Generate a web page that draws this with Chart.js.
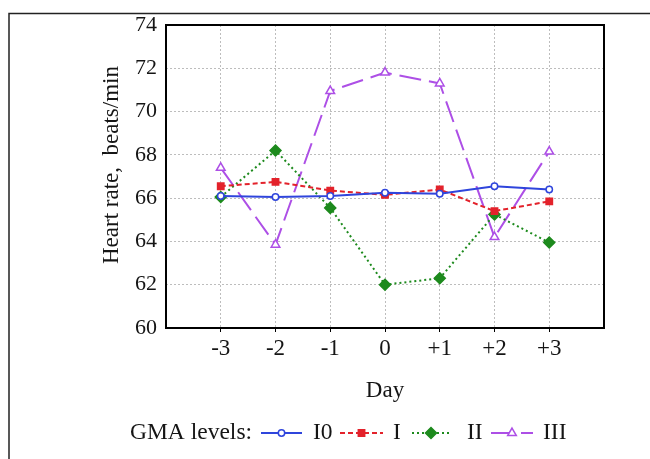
<!DOCTYPE html>
<html>
<head>
<meta charset="utf-8">
<script src="https://cdn.jsdelivr.net/npm/chart.js@4/dist/chart.umd.min.js"></script>
<style>
  html, body { margin: 0; padding: 0; background: #fff; }
  #wrap { width: 650px; height: 459px; position: relative; }
</style>
</head>
<body>
<div id="wrap"><canvas id="c" width="650" height="459"></canvas></div>
<script>
// Days relative to the event, and their printed labels
const days = [-3, -2, -1, 0, 1, 2, 3];
const dayLabels = ['-3', '-2', '-1', '0', '+1', '+2', '+3'];

// Mean heart rate (beats/min) per GMA level
const hrI0  = [66.1, 66.05, 66.1, 66.25, 66.2, 66.55, 66.4];
const hrI   = [66.55, 66.75, 66.35, 66.15, 66.4, 65.4, 65.85];
const hrII  = [66.05, 68.2, 65.55, 62.0, 62.3, 65.25, 63.95];
const hrIII = [67.4, 63.85, 70.95, 71.8, 71.3, 64.2, 68.15];

const yTicks = [60, 62, 64, 66, 68, 70, 72, 74];

const SERIF = '"Liberation Serif", "Times New Roman", serif';
const INK = '#151515';

const toPoints = arr => days.map((d, i) => ({ x: d, y: arr[i] }));

const series = [
  { label: 'I0',  data: hrI0,  color: '#2f45dc', dash: [],      style: 'circle',   fill: '#ffffff', radius: 3.2, width: 2 },
  { label: 'I',   data: hrI,   color: '#e3222b', dash: [5, 3],  style: 'rect',     fill: '#e3222b', radius: 4.5, width: 2 },
  { label: 'II',  data: hrII,  color: '#1d8a1d', dash: [2, 3],  style: 'rectRot',  fill: '#1d8a1d', radius: 5.5, width: 2 },
  { label: 'III', data: hrIII, color: '#ad4fe6', dash: [22, 8], style: 'triangle', fill: '#ffffff', radius: 5,   width: 2 }
];

const datasets = series.map(s => ({
  label: s.label,
  data: toPoints(s.data),
  borderColor: s.color,
  backgroundColor: s.fill,
  borderWidth: s.width,
  borderDash: s.dash,
  pointStyle: s.style,
  pointRadius: s.radius,
  pointBorderColor: s.color,
  pointBackgroundColor: s.fill,
  pointBorderWidth: 1.5,
  tension: 0,
  fill: false
}));

// Outer frame, plot box and the legend row
const decorations = {
  id: 'decorations',
  beforeDraw(chart) {
    const ctx = chart.ctx;
    ctx.save();
    ctx.strokeStyle = '#222';
    ctx.lineWidth = 1.5;
    ctx.beginPath();
    ctx.moveTo(9, 459);
    ctx.lineTo(9, 13.5);
    ctx.lineTo(650, 13.5);
    ctx.stroke();
    ctx.restore();
  },
  afterDraw(chart) {
    const ctx = chart.ctx;
    const a = chart.chartArea;
    ctx.save();
    ctx.strokeStyle = '#000';
    ctx.lineWidth = 2;
    ctx.strokeRect(a.left, a.top, a.right - a.left, a.bottom - a.top);

    // legend row
    const y = 433;
    ctx.font = '23.5px ' + SERIF;
    ctx.fillStyle = INK;
    ctx.textBaseline = 'middle';
    ctx.textAlign = 'left';
    ctx.fillText('GMA levels:', 130, y);
    const slots = [
      { x0: 261, x1: 302, text: 313 },
      { x0: 340, x1: 383, text: 393 },
      { x0: 412, x1: 450, text: 467 },
      { x0: 491, x1: 533, text: 543 }
    ];
    series.forEach((s, i) => {
      const p = slots[i];
      ctx.save();
      ctx.strokeStyle = s.color;
      ctx.lineWidth = s.width;
      ctx.setLineDash(s.dash);
      ctx.beginPath();
      ctx.moveTo(p.x0, y);
      ctx.lineTo(p.x1, y);
      ctx.stroke();
      ctx.setLineDash([]);
      ctx.fillStyle = s.fill;
      ctx.strokeStyle = s.color;
      ctx.lineWidth = 1.5;
      Chart.helpers.drawPoint(ctx, {
        pointStyle: s.style,
        radius: s.radius,
        rotation: 0,
        borderWidth: 1.5
      }, (p.x0 + p.x1) / 2, y);
      ctx.restore();
      ctx.fillStyle = INK;
      ctx.fillText(s.label, p.text, y);
    });
    ctx.restore();
  }
};

new Chart(document.getElementById('c'), {
  type: 'line',
  data: { datasets },
  plugins: [decorations],
  options: {
    responsive: false,
    animation: false,
    events: [],
    layout: { padding: { left: 98, right: 46, top: 25, bottom: 54 } },
    plugins: {
      legend: { display: false },
      tooltip: { enabled: false }
    },
    scales: {
      x: {
        type: 'linear',
        min: -4,
        max: 4,
        afterBuildTicks: scale => { scale.ticks = days.map(v => ({ value: v })); },
        afterFit: scale => { scale.height = 77; },
        ticks: {
          callback: v => dayLabels[days.indexOf(v)],
          font: { family: SERIF, size: 23 },
          color: INK,
          padding: 3,
          maxRotation: 0
        },
        grid: {
          color: '#bdbdbd',
          lineWidth: 1,
          drawTicks: true,
          tickLength: 4,
          tickColor: '#000'
        },
        border: { display: false, dash: [2, 2] },
        title: {
          display: true,
          text: 'Day',
          font: { family: SERIF, size: 23 },
          color: INK,
          padding: 0
        }
      },
      y: {
        min: 60,
        max: 74,
        afterBuildTicks: scale => { scale.ticks = yTicks.map(v => ({ value: v })); },
        afterFit: scale => { scale.width = 68; },
        ticks: {
          font: { family: SERIF, size: 22 },
          color: INK,
          padding: 9
        },
        grid: {
          color: '#bdbdbd',
          lineWidth: 1,
          drawTicks: false
        },
        border: { display: false, dash: [2, 2] },
        title: {
          display: true,
          text: '\u2003Heart rate,  beats/min',
          font: { family: SERIF, size: 23 },
          color: INK,
          padding: 0
        }
      }
    }
  }
});
</script>
</body>
</html>
